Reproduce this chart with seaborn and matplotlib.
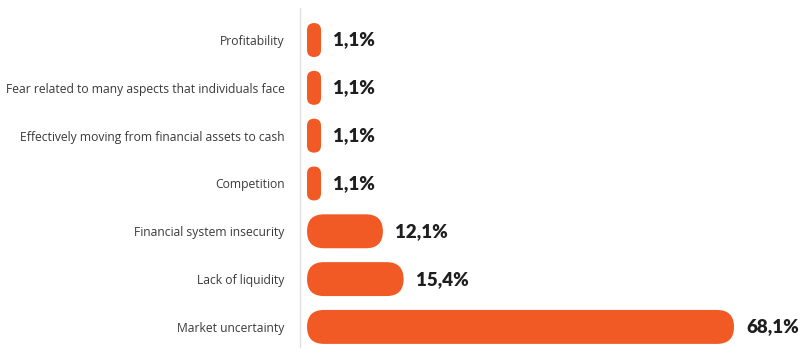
import matplotlib
matplotlib.use("Agg")
import matplotlib.pyplot as plt
import seaborn as sns
import pandas as pd
from matplotlib.patches import FancyBboxPatch
from matplotlib.transforms import IdentityTransform

categories = [
    "Profitability",
    "Fear related to many aspects that individuals face",
    "Effectively moving from financial assets to cash",
    "Competition",
    "Financial system insecurity",
    "Lack of liquidity",
    "Market uncertainty",
]
values = [1.1, 1.1, 1.1, 1.1, 12.1, 15.4, 68.1]
value_labels = ["1,1%", "1,1%", "1,1%", "1,1%", "12,1%", "15,4%", "68,1%"]

df = pd.DataFrame({"category": categories, "value": values})

sns.set_style("white")
plt.rcParams["font.family"] = ["Open Sans", "DejaVu Sans"]

W, H = 808, 355
fig = plt.figure(figsize=(W / 100, H / 100), dpi=100)
ax = fig.add_axes([300 / W, 8 / H, 508 / W, 339 / H])

orange = "#F15A25"
sns.barplot(data=df, x="value", y="category", orient="h", color=orange,
            width=0.71, ax=ax, saturation=1)

ax.set_xlim(-1.12, 79.9)
ax.set_ylim(6.42, -0.67)
ax.set_xlabel("")
ax.set_ylabel("")
ax.set_xticks([])
for s in ["top", "right", "bottom"]:
    ax.spines[s].set_visible(False)
ax.spines["left"].set_color("#e0e0e0")
ax.spines["left"].set_linewidth(1.0)
ax.tick_params(axis="y", length=0, pad=11, labelsize=8.7, labelcolor="#3a3a3a")

fig.canvas.draw()
min_w = 14
bars = list(ax.patches)
for bar, lab in zip(bars, value_labels):
    x0, y0 = ax.transData.transform((bar.get_x(), bar.get_y()))
    x1, y1 = ax.transData.transform((bar.get_x() + bar.get_width(),
                                     bar.get_y() + bar.get_height()))
    left, right = min(x0, x1), max(x0, x1)
    bottom, top = min(y0, y1), max(y0, y1)
    w = max(right - left, min_w)
    h = top - bottom
    r = min(w, h) / 2
    bar.remove()
    p = FancyBboxPatch((left, bottom), w, h,
                       boxstyle=f"round,pad=0,rounding_size={r}",
                       transform=IdentityTransform(), facecolor=orange,
                       edgecolor="none")
    ax.add_patch(p)
    ax.text(left + w + 12, (bottom + top) / 2, lab, transform=IdentityTransform(),
            ha="left", va="center", fontsize=13.5, fontweight="heavy",
            color="#1f1f1f", family=["Lato", "DejaVu Sans"])

fig.savefig("out.png", dpi=100)
